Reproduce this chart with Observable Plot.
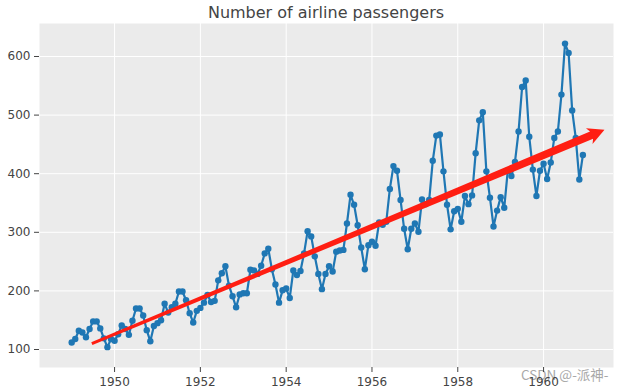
<!DOCTYPE html>
<html>
<head>
<meta charset="utf-8">
<script src="https://cdn.jsdelivr.net/npm/d3@7"></script>
<script src="https://cdn.jsdelivr.net/npm/@observablehq/plot@0.6"></script>
<style>
  html, body { margin: 0; padding: 0; background: #fff; }
  #wrap { position: relative; width: 622px; height: 392px; font-family: "DejaVu Sans", sans-serif; }
  #chart { position: absolute; left: 0; top: 0; }
  #title { position: absolute; left: 39px; top: 1px; width: 574px; text-align: center; font-family: "DejaVu Sans", sans-serif; font-size: 16px; line-height: 24px; color: #444; white-space: nowrap; }
  #mark { position: absolute; left: 521px; top: 366px; font-size: 13.5px; line-height: 16px; color: #a8a8a8; font-family: "Noto Sans CJK SC", "DejaVu Sans", sans-serif; white-space: nowrap; }
  svg { display: block; }
</style>
</head>
<body>
<div id="wrap">
  <div id="mark">CSDN @-派神-</div>
  <div id="chart"></div>
  <div id="title">Number of airline passengers</div>
</div>
<script>
const title = "Number of airline passengers";
const years = [1949, 1950, 1951, 1952, 1953, 1954, 1955, 1956, 1957, 1958, 1959, 1960];
const passengers = [
  112, 118, 132, 129, 121, 135, 148, 148, 136, 119, 104, 118,
  115, 126, 141, 135, 125, 149, 170, 170, 158, 133, 114, 140,
  145, 150, 178, 163, 172, 178, 199, 199, 184, 162, 146, 166,
  171, 180, 193, 181, 183, 218, 230, 242, 209, 191, 172, 194,
  196, 196, 236, 235, 229, 243, 264, 272, 237, 211, 180, 201,
  204, 188, 235, 227, 234, 264, 302, 293, 259, 229, 203, 229,
  242, 233, 267, 269, 270, 315, 364, 347, 312, 274, 237, 278,
  284, 277, 317, 313, 318, 374, 413, 405, 355, 306, 271, 306,
  315, 301, 356, 348, 355, 422, 465, 467, 404, 347, 305, 336,
  340, 318, 362, 348, 363, 435, 491, 505, 404, 359, 310, 337,
  360, 342, 406, 396, 420, 472, 548, 559, 463, 407, 362, 405,
  417, 391, 419, 461, 472, 535, 622, 606, 508, 461, 390, 432
];
const xTicks = [1950, 1952, 1954, 1956, 1958, 1960];
const yTicks = [100, 200, 300, 400, 500, 600];
const arrowStart = [1949.47, 110];
const arrowEnd = [1961.42, 475];

const data = passengers.map((v, i) => ({
  t: years[Math.floor(i / 12)] + (i % 12) / 12,
  v
}));

const W = 622, H = 392, mL = 39, mR = 9, mT = 23, mB = 25;
const xDom = [1948.25, 1961.63], yDom = [69.3, 656.3];
const kx = (W - mL - mR) / (xDom[1] - xDom[0]);
const ky = (H - mT - mB) / (yDom[1] - yDom[0]);
const toPx = ([x, y]) => [(x - xDom[0]) * kx, (yDom[1] - y) * ky];
const toData = ([px, py]) => [px / kx + xDom[0], yDom[1] - py / ky];

// tapered arrow polygon built in pixel space from the arrow's data endpoints
function arrowPolygon() {
  const p0 = toPx(arrowStart), p1 = toPx(arrowEnd);
  const dx = p1[0] - p0[0], dy = p1[1] - p0[1];
  const L = Math.hypot(dx, dy);
  const u = [dx / L, dy / L], n = [-u[1], u[0]];
  const headLen = 14, barbBack = 2.5, headHalf = 8.5, w0 = 1.5, w1 = 4;
  const b = [p1[0] - u[0] * headLen, p1[1] - u[1] * headLen];
  const pts = [
    [p0[0] + n[0] * w0, p0[1] + n[1] * w0],
    [b[0] + n[0] * w1, b[1] + n[1] * w1],
    [b[0] - u[0] * barbBack + n[0] * headHalf, b[1] - u[1] * barbBack + n[1] * headHalf],
    p1,
    [b[0] - u[0] * barbBack - n[0] * headHalf, b[1] - u[1] * barbBack - n[1] * headHalf],
    [b[0] - n[0] * w1, b[1] - n[1] * w1],
    [p0[0] - n[0] * w0, p0[1] - n[1] * w0]
  ];
  return pts.map(toData).map(([x, y]) => ({x, y}));
}

const chart = Plot.plot({
  width: W,
  height: H,
  marginLeft: mL,
  marginRight: mR,
  marginTop: mT,
  marginBottom: mB,
  style: {fontFamily: "'DejaVu Sans', sans-serif", fontSize: "12px", color: "#444", background: "transparent"},
  x: {domain: xDom},
  y: {domain: yDom},
  marks: [
    Plot.frame({fill: "#ebebeb", stroke: null}),
    Plot.gridX(xTicks, {stroke: "#fff", strokeOpacity: 1, strokeWidth: 1}),
    Plot.gridY(yTicks, {stroke: "#fff", strokeOpacity: 1, strokeWidth: 1}),
    Plot.axisX(xTicks, {tickFormat: "d", tickSize: 5, tickPadding: 5, label: null, fontSize: 12}),
    Plot.axisY(yTicks, {tickSize: 5, tickPadding: 4, label: null, fontSize: 12}),
    Plot.line(data, {x: "t", y: "v", stroke: "#1f77b4", strokeWidth: 2.2}),
    Plot.dot(data, {x: "t", y: "v", r: 3.2, fill: "#1f77b4", stroke: null}),
    Plot.line(arrowPolygon(), {x: "x", y: "y", fill: "#ff1e12", stroke: "none", curve: "linear-closed"})
  ]
});
document.getElementById("chart").appendChild(chart);
document.getElementById("title").textContent = title;
</script>
</body>
</html>
